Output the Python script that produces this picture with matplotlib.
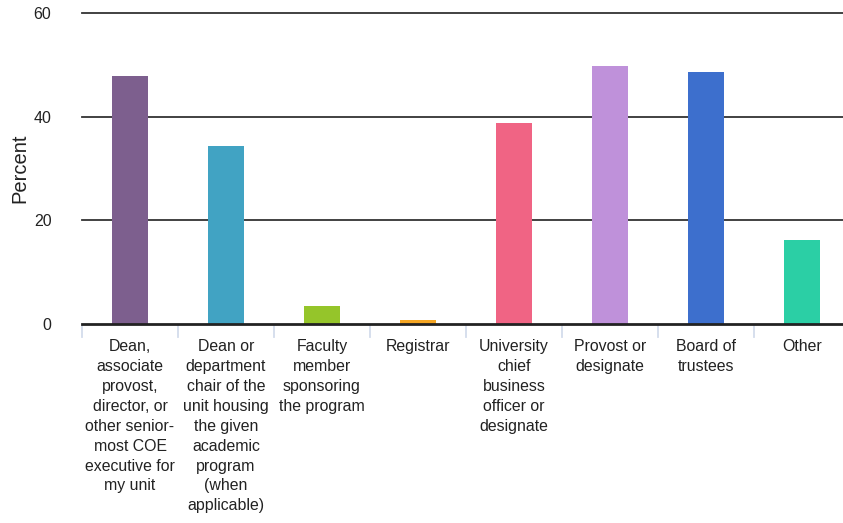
import matplotlib.pyplot as plt

plt.rcParams['font.family'] = ['Liberation Sans', 'DejaVu Sans']

categories = [
    "Dean,\nassociate\nprovost,\ndirector, or\nother senior-\nmost COE\nexecutive for\nmy unit",
    "Dean or\ndepartment\nchair of the\nunit housing\nthe given\nacademic\nprogram\n(when\napplicable)",
    "Faculty\nmember\nsponsoring\nthe program",
    "Registrar",
    "University\nchief\nbusiness\nofficer or\ndesignate",
    "Provost or\ndesignate",
    "Board of\ntrustees",
    "Other",
]
percent = [47.9, 34.4, 3.5, 0.8, 38.8, 49.8, 48.6, 16.2]
colors = ["#7d5f8e", "#41a3c3", "#95c52a", "#f5a623", "#f06484",
          "#bf91da", "#3d6fcd", "#2bcfa5"]

fig = plt.figure(figsize=(8.43, 5.23), dpi=100)
ax = fig.add_axes([82 / 843, 1 - 324 / 523, 768 / 843, 311 / 523])

x = list(range(len(categories)))
ax.bar(x, percent, width=0.375, color=colors, zorder=3)

ax.set_xlim(-0.5, len(categories) - 0.5)
ax.set_ylim(0, 60)
ax.set_yticks([0, 20, 40, 60])
for v in [20, 40, 60]:
    ax.axhline(v, color="#333333", lw=1.3, zorder=1, clip_on=False)
ax.axhline(0, color="#222222", lw=2, zorder=4, clip_on=False)

for s in ax.spines.values():
    s.set_visible(False)

ax.tick_params(axis="y", length=0, pad=22, labelsize=11.5, labelcolor="#222222")
ax.set_xticks([])

# separator ticks between categories
for i in range(len(categories)):
    ax.plot([i - 0.5, i - 0.5], [-0.3, -2.6], color="#d3dcec", lw=1.3,
            clip_on=False, zorder=2)

for i, lab in enumerate(categories):
    ax.text(i, -2.9, lab, ha="center", va="top", fontsize=11.4,
            color="#222222", linespacing=1.41)

ax.set_ylabel("Percent", fontsize=14.5, color="#222222", labelpad=3)

fig.savefig("out.png", dpi=100)
